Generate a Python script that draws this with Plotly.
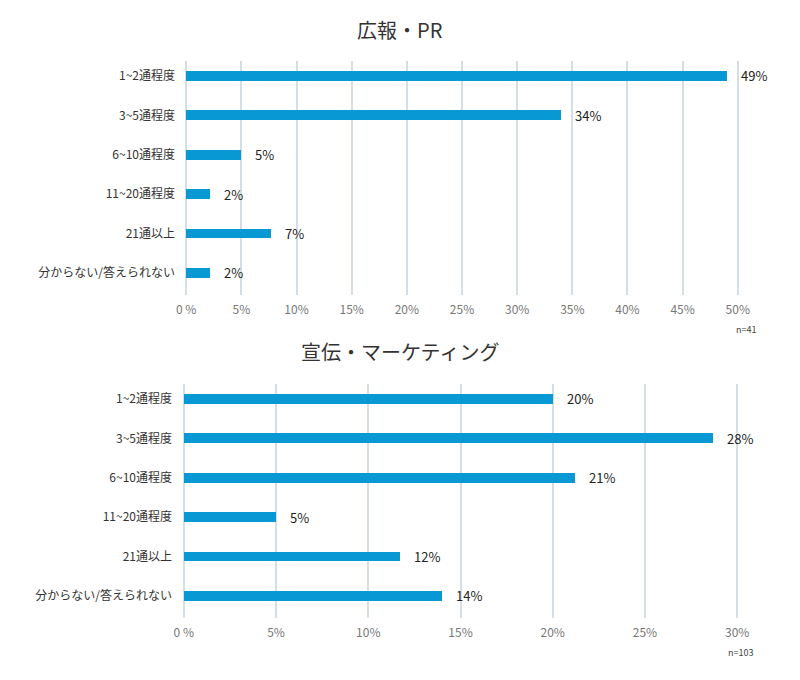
import plotly.graph_objects as go

# ---------------------------
# data
# ---------------------------
categories = ["1~2通程度", "3~5通程度", "6~10通程度", "11~20通程度", "21通以上", "分からない/答えられない"]

pr_values = [49.0, 34.0, 5.0, 2.2, 7.7, 2.2]
pr_labels = ["49%", "34%", "5%", "2%", "7%", "2%"]

mk_values = [20.0, 28.7, 21.2, 5.0, 11.7, 14.0]
mk_labels = ["20%", "28%", "21%", "5%", "12%", "14%"]

pr_ticks = [0, 5, 10, 15, 20, 25, 30, 35, 40, 45, 50]
mk_ticks = [0, 5, 10, 15, 20, 25, 30]

titles = ["広報・PR", "宣伝・マーケティング"]
notes = ["n=41", "n=103"]

BAR = "#0898d4"
GRID = "#d6dee5"
FONT = "Noto Sans CJK JP"
H = 680.0
W = 800.0
OFF = 8  # page body margin


def px_(x):
    return (x - OFF) / W


def py(y):
    return 1 - (y - OFF) / H


fig = go.Figure()

panels = [
    dict(vals=pr_values, labs=pr_labels, ticks=pr_ticks, xr=[-0.2, 50.2],
         xd=[px_(184), px_(740)], yd=[py(295), py(61)], title_y=29, note_xy=(746, 329)),
    dict(vals=mk_values, labs=mk_labels, ticks=mk_ticks, xr=[-0.15, 30.15],
         xd=[px_(181), px_(740)], yd=[py(618), py(384)], title_y=351, note_xy=(740, 652)),
]

annotations = []
for i, p in enumerate(panels):
    n = "" if i == 0 else str(i + 1)
    fig.add_trace(go.Bar(
        x=p["vals"], y=categories, orientation="h",
        marker=dict(color=BAR, line=dict(width=0)),
        width=0.25, hoverinfo="skip",
        xaxis="x" + n, yaxis="y" + n,
    ))
    for v, c, t in zip(p["vals"], categories, p["labs"]):
        annotations.append(dict(
            x=v, y=c, xref="x" + n, yref="y" + n, text=t, showarrow=False,
            xanchor="left", xshift=12, font=dict(family=FONT, size=13, color="#222"),
        ))
    annotations.append(dict(
        x=px_(400), y=py(p["title_y"]), xref="paper", yref="paper", text=titles[i],
        showarrow=False, xanchor="center", yanchor="middle",
        font=dict(family=FONT, size=20, color="#333"),
    ))
    annotations.append(dict(
        x=px_(p["note_xy"][0]), y=py(p["note_xy"][1]), xref="paper", yref="paper",
        text=notes[i], showarrow=False, xanchor="center", yanchor="middle",
        font=dict(family=FONT, size=9, color="#444"),
    ))

    ticktext = [("0 %" if t == 0 else f"{t}%") for t in p["ticks"]]
    fig.update_layout({
        "xaxis" + n: dict(
            domain=p["xd"], range=p["xr"], anchor="y" + n, automargin=False,
            tickvals=p["ticks"], ticktext=ticktext,
            showgrid=True, gridcolor=GRID, gridwidth=2, zeroline=False,
            showline=False, ticks="", ticklabelstandoff=6,
            tickfont=dict(family=FONT, size=12, color="#777"),
        ),
        "yaxis" + n: dict(
            domain=p["yd"], range=[5.56, -0.38], anchor="x" + n, automargin=False,
            type="category", categoryorder="array", categoryarray=categories,
            showgrid=False, zeroline=False, showline=False, ticks="",
            ticklabelstandoff=8,
            tickfont=dict(family=FONT, size=12, color="#333"),
        ),
    })

fig.update_layout(
    width=800, height=680,
    margin=dict(l=0, r=0, t=0, b=0),
    paper_bgcolor="white", plot_bgcolor="white",
    showlegend=False, bargap=0,
    annotations=annotations,
    font=dict(family=FONT),
)

fig.write_html("out.html")
